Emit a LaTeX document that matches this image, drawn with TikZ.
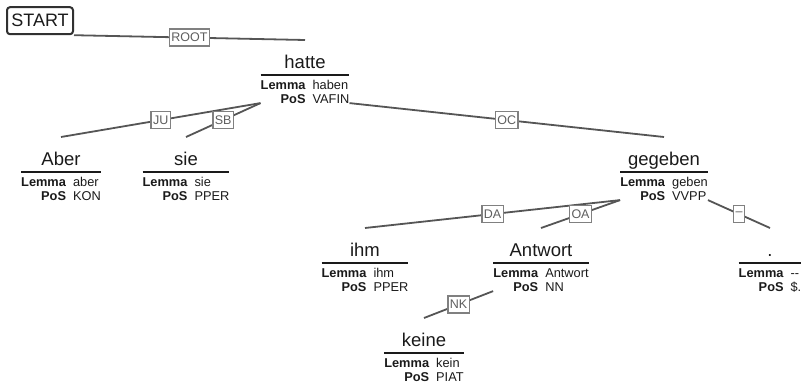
\documentclass[tikz,border=0pt]{standalone}
\usepackage{fontspec}
\setmainfont{Liberation Sans}
\usepackage{array}
\definecolor{edgegray}{HTML}{555555}
\definecolor{boxgray}{HTML}{808080}
\definecolor{lblgray}{HTML}{5E5E5E}
\definecolor{inkgray}{HTML}{1A1A1A}
\setlength{\arrayrulewidth}{1.3pt}
\newcommand{\wordfont}{\fontsize{18.5}{20}\selectfont}
\newcommand{\tokentab}[3]{%
  \begin{tabular}{@{}r@{\hspace{7pt}}l@{}}
  \multicolumn{2}{@{}c@{}}{\rule{0pt}{14pt}\wordfont #1}\\[2pt]
  \hline
  \rule{0pt}{14pt}\textbf{Lemma} & #2\\
  \textbf{PoS} & #3
  \end{tabular}}

\begin{document}
\begin{tikzpicture}[
  x=1pt, y=-1pt,
  token/.style={inner sep=0pt, anchor=north, text=inkgray, font={\fontsize{12.8}{14}\selectfont}},
  lbl/.style={draw=boxgray, fill=white, line width=1.3pt, text=lblgray, font={\fontsize{12.5}{14}\selectfont}, inner xsep=2pt, inner ysep=1.5pt, minimum height=17pt},
  edge/.style={draw=edgegray, line width=1.8pt},
  startbox/.style={draw=inkgray!90, line width=2pt, rounded corners=3pt, minimum width=66pt, minimum height=27pt, inner sep=0pt, text=inkgray, font={\fontsize{18}{20}\selectfont}}
]
\useasboundingbox (0,0) rectangle (802,385);
\node[startbox] (start) at (40,20.7) {START};
\node[token] (hatte) at (305,54) {\tokentab{hatte}{haben}{VAFIN}};
\node[token] (aber) at (61,151) {\tokentab{Aber}{aber}{KON}};
\node[token] (sie) at (186,151) {\tokentab{sie}{sie}{PPER}};
\node[token] (gegeben) at (664,151) {\tokentab{gegeben}{geben}{VVPP}};
\node[token] (ihm) at (365,242) {\tokentab{ihm}{ihm}{PPER}};
\node[token] (antwort) at (541,242) {\tokentab{Antwort}{Antwort}{NN}};
\node[token] (punkt) at (770,242) {\tokentab{.}{-{}-}{\$.}};
\node[token] (keine) at (424,332) {\tokentab{keine}{kein}{PIAT}};
\draw[edge] (start.south east) -- node[lbl] {ROOT} ([yshift=14pt]hatte.north);
\draw[edge] ([yshift=5pt]hatte.south west) -- node[lbl] {JU} ([yshift=14pt]aber.north);
\draw[edge] ([yshift=5pt]hatte.south west) -- node[lbl] {SB} ([yshift=14pt]sie.north);
\draw[edge] ([yshift=5pt]hatte.south east) -- node[lbl] {OC} ([yshift=14pt]gegeben.north);
\draw[edge] ([yshift=5pt]gegeben.south west) -- node[lbl] {DA} ([yshift=14pt]ihm.north);
\draw[edge] ([yshift=5pt]gegeben.south west) -- node[lbl] {OA} ([yshift=14pt]antwort.north);
\draw[edge] ([yshift=5pt]gegeben.south east) -- node[lbl] {\textendash} ([yshift=14pt]punkt.north);
\draw[edge] ([yshift=5pt]antwort.south west) -- node[lbl] {NK} ([yshift=14pt]keine.north);
\end{tikzpicture}
\end{document}
